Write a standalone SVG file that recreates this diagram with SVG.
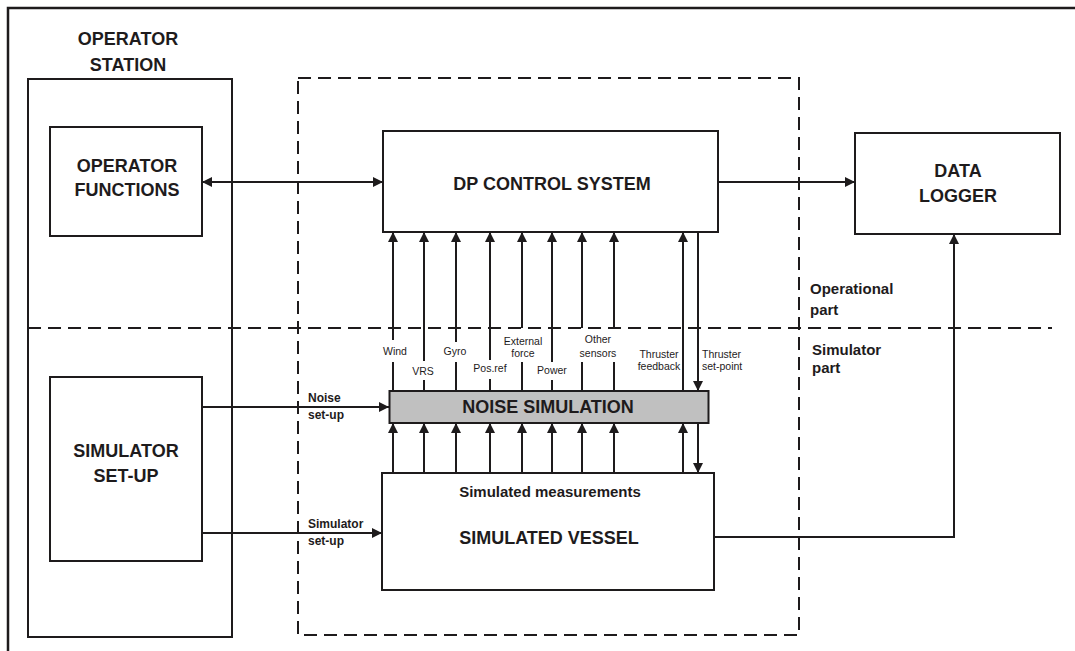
<svg xmlns="http://www.w3.org/2000/svg" width="1075" height="651" viewBox="0 0 1075 651">
<style>
.box{fill:#fff;stroke:#1e1b1c;stroke-width:2}
.dash{fill:none;stroke:#1e1b1c;stroke-width:2;stroke-dasharray:13 7}
.ln{fill:none;stroke:#1e1b1c;stroke-width:2}
.arr{fill:none;stroke:#1e1b1c;stroke-width:2;marker-end:url(#ah)}
.big{font-family:"Liberation Sans",Arial,sans-serif;font-weight:bold;font-size:18px;fill:#1e1b1c;text-anchor:middle}
.mid{font-family:"Liberation Sans",Arial,sans-serif;font-weight:bold;font-size:15px;fill:#1e1b1c}
.midc{text-anchor:middle}
.sb{font-family:"Liberation Sans",Arial,sans-serif;font-weight:bold;font-size:12px;fill:#1e1b1c}
.sm{font-family:"Liberation Sans",Arial,sans-serif;font-size:10.5px;fill:#1e1b1c;text-anchor:middle}
.sml{font-family:"Liberation Sans",Arial,sans-serif;font-size:10.5px;fill:#1e1b1c;text-anchor:start}
</style>
<defs>
<marker id="ah" markerUnits="userSpaceOnUse" markerWidth="10" markerHeight="10" refX="10" refY="5" orient="auto">
<path d="M0,0 L10,5 L0,10 z" fill="#1e1b1c"/>
</marker>
<marker id="ahs" markerUnits="userSpaceOnUse" markerWidth="10" markerHeight="10" refX="0" refY="5" orient="auto">
<path d="M10,0 L0,5 L10,10 z" fill="#1e1b1c"/>
</marker>
</defs>
<rect width="1075" height="651" fill="#fff"/>
<g id="frame">
<path d="M8,651 L8,8 L1075,8" fill="none" stroke="#1e1b1c" stroke-width="2.5"/>
</g>
<g id="operator-station">
<rect class="box" x="28" y="79" width="204" height="558"/>
<text class="big" x="128" y="45">OPERATOR</text>
<text class="big" x="128" y="71">STATION</text>
</g>
<g id="simulator-boundary">
<rect class="dash" x="298" y="78" width="501" height="557"/>
<line class="dash" x1="28" y1="328" x2="1052" y2="328"/>
<text class="mid" x="810" y="294">Operational</text>
<text class="mid" x="810" y="315">part</text>
<text class="mid" x="812" y="355">Simulator</text>
<text class="mid" x="812" y="373">part</text>
</g>
<g id="operator-functions">
<rect class="box" x="50" y="127" width="152" height="109"/>
<text class="big" x="127" y="172">OPERATOR</text>
<text class="big" x="127" y="196">FUNCTIONS</text>
</g>
<g id="simulator-setup">
<rect class="box" x="50" y="377" width="152" height="184"/>
<text class="big" x="126" y="457">SIMULATOR</text>
<text class="big" x="126" y="482">SET-UP</text>
</g>
<g id="dp-control-system">
<rect class="box" x="383" y="131" width="335" height="101"/>
<text class="big" x="552" y="190">DP CONTROL SYSTEM</text>
</g>
<g id="data-logger">
<rect class="box" x="855" y="133" width="205" height="101"/>
<text class="big" x="958" y="177">DATA</text>
<text class="big" x="958" y="202">LOGGER</text>
</g>
<g id="noise-simulation">
<rect x="389.5" y="391" width="319" height="32" fill="#c0c0c0" stroke="#1e1b1c" stroke-width="2"/>
<text class="big" x="548" y="413">NOISE SIMULATION</text>
</g>
<g id="simulated-vessel">
<rect class="box" x="382" y="473" width="332" height="117"/>
<text class="mid midc" x="550" y="497">Simulated measurements</text>
<text class="big" x="549" y="544">SIMULATED VESSEL</text>
</g>
<g id="connectors">
<line class="ln" x1="202" y1="182" x2="383" y2="182" marker-start="url(#ahs)" marker-end="url(#ah)"/>
<line class="arr" x1="718" y1="182" x2="855" y2="182"/>
<polyline class="arr" points="714,537 954,537 954,234"/>
<line class="arr" x1="202" y1="407" x2="389" y2="407"/>
<line class="arr" x1="202" y1="533" x2="382" y2="533"/>
<line class="arr" x1="393" y1="340" x2="393" y2="232"/><line class="ln" x1="393" y1="391" x2="393" y2="362"/>
<line class="arr" x1="424" y1="361" x2="424" y2="232"/><line class="ln" x1="424" y1="391" x2="424" y2="380"/>
<line class="arr" x1="456" y1="342" x2="456" y2="232"/><line class="ln" x1="456" y1="391" x2="456" y2="362"/>
<line class="arr" x1="490" y1="360" x2="490" y2="232"/><line class="ln" x1="490" y1="391" x2="490" y2="379"/>
<line class="arr" x1="522" y1="328" x2="522" y2="232"/><line class="ln" x1="522" y1="391" x2="522" y2="362"/>
<line class="arr" x1="552" y1="362" x2="552" y2="232"/><line class="ln" x1="552" y1="391" x2="552" y2="380"/>
<line class="arr" x1="582" y1="328" x2="582" y2="232"/><line class="ln" x1="582" y1="391" x2="582" y2="362"/>
<line class="arr" x1="614" y1="328" x2="614" y2="232"/><line class="ln" x1="614" y1="391" x2="614" y2="362"/>
<line class="arr" x1="683" y1="391" x2="683" y2="232"/>
<line class="arr" x1="698" y1="232" x2="698" y2="391"/>
<line class="arr" x1="393" y1="473" x2="393" y2="423"/>
<line class="arr" x1="424" y1="473" x2="424" y2="423"/>
<line class="arr" x1="456" y1="473" x2="456" y2="423"/>
<line class="arr" x1="490" y1="473" x2="490" y2="423"/>
<line class="arr" x1="522" y1="473" x2="522" y2="423"/>
<line class="arr" x1="552" y1="473" x2="552" y2="423"/>
<line class="arr" x1="582" y1="473" x2="582" y2="423"/>
<line class="arr" x1="614" y1="473" x2="614" y2="423"/>
<line class="arr" x1="683" y1="473" x2="683" y2="423"/>
<line class="arr" x1="698" y1="423" x2="698" y2="473"/>
<text class="sb" x="308" y="402">Noise</text>
<text class="sb" x="308" y="419">set-up</text>
<text class="sb" x="308" y="528">Simulator</text>
<text class="sb" x="308" y="545">set-up</text>
<text class="sm" x="395" y="355">Wind</text>
<text class="sm" x="423" y="375">VRS</text>
<text class="sm" x="455" y="355">Gyro</text>
<text class="sm" x="490" y="372">Pos.ref</text>
<text class="sm" x="523" y="345">External</text>
<text class="sm" x="523" y="357">force</text>
<text class="sm" x="552" y="374">Power</text>
<text class="sm" x="598" y="343">Other</text>
<text class="sm" x="598" y="357">sensors</text>
<text class="sm" x="659" y="358">Thruster</text>
<text class="sm" x="659" y="370">feedback</text>
<text class="sml" x="702" y="358">Thruster</text>
<text class="sml" x="702" y="370">set-point</text>
</g>
</svg>
